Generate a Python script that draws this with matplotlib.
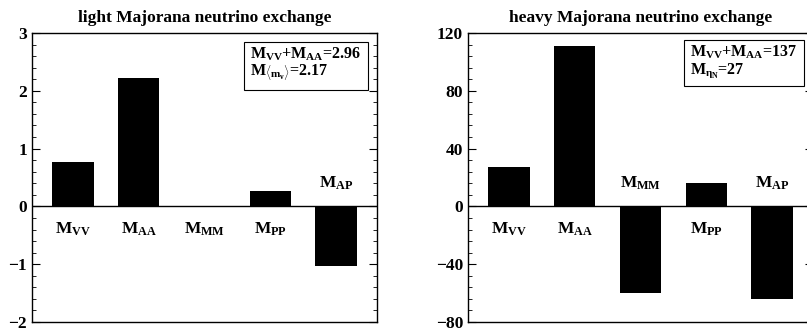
import matplotlib.pyplot as plt
from matplotlib.ticker import MultipleLocator

plt.rcParams['font.family'] = 'Liberation Serif'
plt.rcParams['font.weight'] = 'bold'
plt.rcParams['mathtext.fontset'] = 'custom'
plt.rcParams['mathtext.rm'] = 'Liberation Serif:bold'
plt.rcParams['mathtext.it'] = 'Liberation Serif:bold'
plt.rcParams['mathtext.bf'] = 'Liberation Serif:bold'

categories = [r'$M_{VV}$', r'$M_{AA}$', r'$M_{MM}$', r'$M_{PP}$', r'$M_{AP}$']
light_values = [0.76, 2.23, 0.01, 0.26, -1.03]
heavy_values = [27, 111, -60, 16, -64]
titles = ['light Majorana neutrino exchange', 'heavy Majorana neutrino exchange']
box_texts = [r'$M_{VV}$+$M_{AA}$=2.96' + '\n' + r'$M_{\langle m_\nu\rangle}$=2.17',
             r'$M_{VV}$+$M_{AA}$=137' + '\n' + r'$M_{\eta_N}$=27']

W, H = 807, 334
fig = plt.figure(figsize=(W / 100, H / 100), dpi=100)

panels = [
    dict(vals=light_values, left=32, ylim=(-2, 3), major=1, minor=0.2, off=0.4,
         box=(244, 46)),
    dict(vals=heavy_values, left=468, ylim=(-80, 120), major=40, minor=8, off=16,
         box=(684, 44)),
]
top, bottom, width = 33, 322, 345

for i, p in enumerate(panels):
    ax = fig.add_axes([p['left'] / W, 1 - bottom / H, width / W, (bottom - top) / H])
    x = range(len(categories))
    ax.bar(x, p['vals'], width=0.63, color='black')
    ax.axhline(0, color='black', lw=1)
    ax.set_xlim(-0.62, 4.62)
    ax.set_ylim(*p['ylim'])
    ax.set_xticks([])
    ax.yaxis.set_major_locator(MultipleLocator(p['major']))
    ax.yaxis.set_minor_locator(MultipleLocator(p['minor']))
    ax.tick_params(axis='y', which='both', direction='in', left=True, right=True,
                   labelsize=12.5)
    ax.tick_params(axis='y', which='major', length=6)
    ax.tick_params(axis='y', which='minor', length=3)
    ax.yaxis.set_major_formatter(plt.FuncFormatter(lambda v, _: f'{v:g}'.replace('-', '\u2212')))
    for s in ax.spines.values():
        s.set_linewidth(1)
    for xi, (name, v) in enumerate(zip(categories, p['vals'])):
        # label goes on the opposite side of zero from the bar
        y = p['off'] if v < -0.05 * p['major'] else -p['off']
        ax.text(xi, y, name, ha='center', va='center', fontsize=12.5)
    ax.set_title(titles[i], fontsize=12.5, fontweight='bold', pad=8)
    bx, by = p['box']
    fig.text(bx / W + 0.008, 1 - by / H, box_texts[i], ha='left', va='top', fontsize=11.5,
             linespacing=1.0, multialignment='left',
             bbox=dict(boxstyle='square,pad=0.4', fc='white', ec='black', lw=0.8))

fig.savefig('out.png', dpi=100)
